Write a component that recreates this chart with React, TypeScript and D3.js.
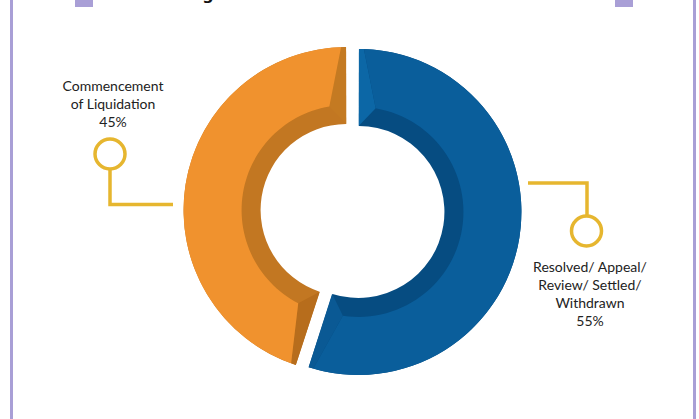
import { arc, pie, lineRadial, curveLinearClosed, PieArcDatum } from 'd3';

// chart values
const categories = ['Resolved/ Appeal/ Review/ Settled/ Withdrawn', 'Commencement of Liquidation'];
const values = [55, 45];
const labelLines = [
  ['Resolved/ Appeal/', 'Review/ Settled/', 'Withdrawn', '55%'],
  ['Commencement', 'of Liquidation', '45%'],
];

const WIDTH = 699;
const HEIGHT = 419;
const cx = 352.5;
const cy = 211;
const R = 163;
const r = 86;
const bevel = 19;
const explode = 6;

const palettes = [
  { face: '#0a5e9b', inner: '#064c81', capStart: '#0c67a6', capEnd: '#0a5994' },
  { face: '#f0922e', inner: '#c27722', capStart: '#b76d1c', capEnd: '#c47a22' },
];

const gold = '#e6b62f';
const frame = '#a99fd6';

type Slice = PieArcDatum<number>;

const radial = lineRadial<[number, number]>()
  .angle((d) => d[0])
  .radius((d) => d[1])
  .curve(curveLinearClosed);

const arcSteps = (a0: number, a1: number, rad: number, n = 60) => {
  const pts: [number, number][] = [];
  for (let i = 0; i <= n; i++) pts.push([a0 + ((a1 - a0) * i) / n, rad]);
  return pts;
};

const Segment = ({ d, i }: { d: Slice; i: number }) => {
  const pal = palettes[i];
  const mid = (d.startAngle + d.endAngle) / 2;
  const dx = Math.sin(mid) * explode;
  const dy = -Math.cos(mid) * explode;
  const base = arc<Slice>().innerRadius(r).outerRadius(R);
  const a0 = d.startAngle + d.padAngle / 2;
  const a1 = d.endAngle - d.padAngle / 2;
  const di = 17 / (r + bevel);
  const dO = 5 / R;
  const faceIn = r + bevel;
  const facePts = [...arcSteps(a0 + dO, a1 - dO, R), ...arcSteps(a1 - di, a0 + di, faceIn)];
  const capStart: [number, number][] = [
    [a0, R],
    [a0 + dO, R],
    [a0 + di, faceIn],
    [a0, r],
  ];
  const capEnd: [number, number][] = [
    [a1, R],
    [a1 - dO, R],
    [a1 - di, faceIn],
    [a1, r],
  ];
  return (
    <g transform={`translate(${cx + dx}, ${cy + dy})`}>
      <path d={base(d) || ''} fill={pal.inner} />
      <path d={radial(capStart) || ''} fill={pal.capStart} />
      <path d={radial(capEnd) || ''} fill={pal.capEnd} />
      <path d={radial(facePts) || ''} fill={pal.face} />
    </g>
  );
};

const Label = ({ lines, x, y }: { lines: string[]; x: number; y: number }) => (
  <text x={x} y={y} textAnchor="middle" fontFamily="Lato, 'Open Sans', sans-serif" fontSize={14} fill="#222">
    {lines.map((l, k) => (
      <tspan key={k} x={x} dy={k === 0 ? 0 : 18}>
        {l}
      </tspan>
    ))}
  </text>
);

export default function App() {
  const slices = pie<number>().sort(null).padAngle(0.006)(values);

  return (
    <svg width={WIDTH} height={HEIGHT} style={{ position: 'absolute', left: 0, top: 0, background: '#fff' }}>
      {/* frame */}
      <line x1={11.5} y1={0} x2={11.5} y2={HEIGHT} stroke={frame} strokeWidth={3} />
      <line x1={694.5} y1={0} x2={694.5} y2={HEIGHT} stroke={frame} strokeWidth={3} />
      <rect x={75} y={0} width={18} height={7} fill={frame} />
      <rect x={615} y={0} width={18} height={7} fill={frame} />
      {/* descender of the title that sits above the crop */}
      <text x={208} y={0} textAnchor="middle" fontFamily="'DejaVu Sans', sans-serif" fontWeight="bold" fontSize={16} fill="#111">
        g
      </text>

      {slices.map((d, i) => (
        <Segment d={d} i={i} key={categories[i]} />
      ))}

      {/* left callout */}
      <polyline points="110,170 110,204.5 173,204.5" fill="none" stroke={gold} strokeWidth={3.5} />
      <circle cx={110} cy={154} r={15} fill="none" stroke={gold} strokeWidth={3.5} />
      <Label lines={labelLines[1]} x={113} y={91} />

      {/* right callout */}
      <polyline points="528,183 587,183 587,215" fill="none" stroke={gold} strokeWidth={3.5} />
      <circle cx={586.5} cy={231} r={15} fill="none" stroke={gold} strokeWidth={3.5} />
      <Label lines={labelLines[0]} x={590} y={272} />
    </svg>
  );
}
